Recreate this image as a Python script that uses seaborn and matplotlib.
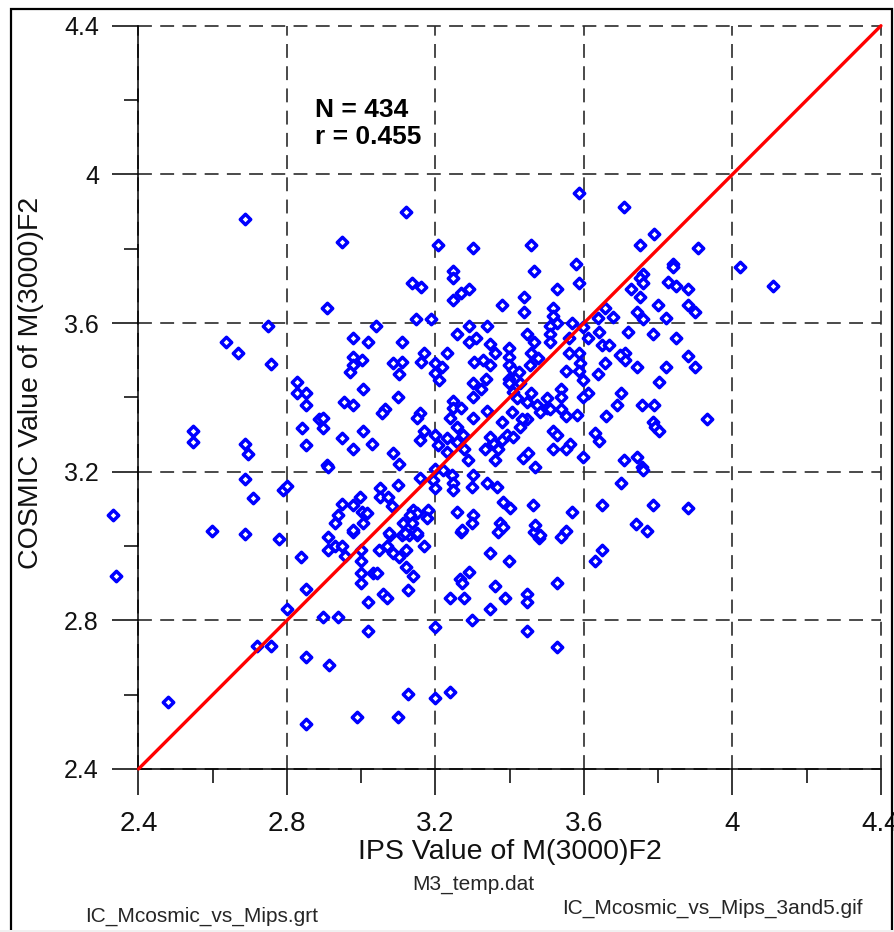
import numpy as np
import pandas as pd
import seaborn as sns
import matplotlib.pyplot as plt
from matplotlib.patches import Rectangle
from matplotlib.ticker import MultipleLocator

# values
ips = [2.331, 2.339, 2.480, 2.547, 2.547, 2.598, 2.636, 2.668, 2.687, 2.749,
       2.757, 2.687, 2.695, 2.687, 2.709, 2.687, 2.719, 2.757, 2.789, 2.800,
       2.779, 2.800, 2.827, 2.827, 2.851, 2.851, 2.887, 2.897, 2.841, 2.851,
       2.838, 2.851, 2.851, 2.851, 2.897, 2.914, 2.911, 2.911, 2.908, 2.908,
       3.121, 2.949, 3.207, 3.302, 3.458, 3.466, 3.248, 3.248, 3.137, 3.161,
       3.269, 3.291, 3.248, 3.380, 3.439, 3.439, 3.148, 3.188, 3.040, 3.291,
       3.339, 2.978, 3.019, 3.110, 3.258, 3.291, 3.310, 3.347, 3.447, 3.466,
       2.978, 3.170, 3.232, 3.399, 3.399, 3.361, 3.458, 3.587, 3.709, 3.789,
       3.752, 3.908, 3.841, 3.841, 3.579, 4.019, 4.110, 3.587, 3.528, 3.760,
       3.752, 3.760, 3.827, 3.849, 3.881, 3.727, 3.752, 3.657, 3.800, 3.881,
       3.900, 3.822, 3.744, 3.760, 3.517, 3.517, 3.528, 3.568, 3.679, 3.639,
       3.509, 3.509, 3.509, 3.560, 3.598, 3.612, 3.641, 3.649, 3.668, 3.719,
       3.787, 3.849, 3.881, 3.587, 3.560, 3.711, 3.900, 3.822, 3.803, 3.744,
       3.711, 3.698, 3.657, 3.639, 3.598, 3.552, 3.590, 3.587, 3.701, 3.612,
       3.598, 3.539, 3.539, 3.501, 3.501, 3.509, 3.539, 3.552, 3.582, 3.690,
       3.755, 3.789, 3.660, 3.787, 3.792, 3.803, 3.932, 3.517, 3.528, 3.630,
       3.641, 3.563, 3.552, 3.517, 3.598, 3.709, 3.744, 3.755, 3.760, 3.701,
       3.649, 3.787, 3.881, 3.568, 3.741, 3.771, 3.552, 3.539, 3.649, 3.630,
       3.528, 3.528, 2.930, 2.949, 2.957, 3.000, 3.000, 3.000, 3.032, 3.043,
       3.000, 3.019, 3.059, 3.070, 3.048, 3.070, 3.086, 3.102, 3.121, 3.121,
       3.140, 3.126, 3.170, 3.078, 3.110, 3.129, 3.151, 2.978, 3.269, 3.369,
       3.466, 3.480, 3.347, 3.399, 3.291, 3.267, 3.272, 3.361, 3.240, 3.277,
       3.388, 3.447, 3.447, 3.347, 2.938, 3.019, 3.199, 3.299, 3.447, 3.126,
       3.199, 3.240, 2.989, 3.099, 3.003, 2.978, 2.970, 3.086, 3.110, 3.102,
       3.161, 3.199, 3.218, 3.199, 3.210, 3.304, 3.328, 3.347, 3.337, 3.399,
       3.409, 3.399, 3.425, 3.455, 3.477, 3.005, 3.099, 2.954, 2.978, 3.064,
       3.056, 3.302, 3.323, 3.302, 3.248, 3.248, 3.269, 3.240, 3.159, 3.151,
       3.302, 3.339, 3.399, 3.409, 3.428, 3.420, 3.458, 3.447, 3.474, 3.482,
       3.447, 3.407, 3.380, 3.434, 2.897, 3.005, 2.949, 2.978, 3.029, 3.170,
       3.199, 3.232, 3.159, 3.207, 3.258, 3.275, 3.258, 3.232, 3.277, 3.334,
       3.355, 3.347, 3.380, 3.393, 3.409, 3.428, 3.369, 3.086, 3.102, 2.911,
       3.288, 3.361, 3.436, 3.450, 3.469, 3.159, 3.194, 3.199, 3.199, 3.245,
       3.248, 3.248, 3.221, 3.302, 3.299, 3.339, 3.366, 3.099, 3.051, 3.051,
       2.997, 3.073, 3.083, 2.949, 2.978, 2.938, 2.930, 3.003, 3.016, 3.005,
       2.978, 3.140, 3.151, 3.132, 3.180, 3.178, 3.258, 3.302, 3.299, 3.113,
       3.137, 3.075, 3.118, 3.272, 3.382, 3.401, 3.374, 3.382, 3.463, 3.469,
       3.482, 3.151]

cosmic = [3.084, 2.920, 2.580, 3.310, 3.280, 3.041, 3.549, 3.520, 3.880, 3.592,
          3.490, 3.275, 3.248, 3.181, 3.129, 3.033, 2.731, 2.731, 3.151, 3.162,
          3.019, 2.831, 3.442, 3.412, 3.412, 3.380, 3.342, 3.318, 3.318, 3.272,
          2.971, 2.885, 2.701, 2.521, 2.809, 2.680, 3.025, 2.990, 3.218, 3.641,
          3.899, 3.819, 3.810, 3.802, 3.810, 3.741, 3.741, 3.722, 3.708, 3.697,
          3.681, 3.692, 3.662, 3.649, 3.671, 3.630, 3.611, 3.611, 3.592, 3.592,
          3.592, 3.560, 3.549, 3.549, 3.571, 3.549, 3.560, 3.544, 3.571, 3.549,
          3.509, 3.520, 3.520, 3.533, 3.509, 3.520, 3.520, 3.950, 3.913, 3.840,
          3.810, 3.802, 3.759, 3.751, 3.759, 3.751, 3.700, 3.708, 3.692, 3.732,
          3.722, 3.708, 3.711, 3.700, 3.692, 3.692, 3.671, 3.641, 3.649, 3.649,
          3.630, 3.614, 3.630, 3.611, 3.641, 3.619, 3.601, 3.601, 3.617, 3.614,
          3.592, 3.571, 3.549, 3.560, 3.590, 3.560, 3.576, 3.541, 3.541, 3.576,
          3.571, 3.560, 3.512, 3.520, 3.520, 3.520, 3.482, 3.482, 3.442, 3.482,
          3.501, 3.514, 3.493, 3.463, 3.447, 3.471, 3.493, 3.471, 3.412, 3.412,
          3.401, 3.423, 3.401, 3.399, 3.372, 3.369, 3.369, 3.350, 3.353, 3.380,
          3.380, 3.380, 3.350, 3.334, 3.321, 3.310, 3.342, 3.310, 3.299, 3.304,
          3.283, 3.275, 3.261, 3.261, 3.240, 3.232, 3.240, 3.213, 3.205, 3.170,
          3.111, 3.111, 3.103, 3.092, 3.059, 3.041, 3.041, 3.025, 2.990, 2.960,
          2.901, 2.728, 3.000, 3.000, 2.973, 2.990, 2.960, 2.928, 2.928, 2.928,
          2.901, 2.850, 2.871, 2.860, 2.990, 3.000, 2.981, 2.971, 2.990, 2.944,
          2.920, 2.882, 3.000, 3.030, 3.030, 3.030, 3.030, 3.038, 3.038, 3.038,
          3.038, 3.022, 2.981, 2.960, 2.930, 2.911, 2.901, 2.893, 2.860, 2.860,
          2.860, 2.871, 2.850, 2.831, 2.809, 2.771, 2.782, 2.801, 2.771, 2.602,
          2.591, 2.607, 2.540, 2.540, 3.501, 3.487, 3.469, 3.493, 3.496, 3.463,
          3.496, 3.493, 3.482, 3.466, 3.447, 3.496, 3.501, 3.487, 3.450, 3.487,
          3.474, 3.450, 3.469, 3.487, 3.506, 3.423, 3.401, 3.388, 3.380, 3.369,
          3.358, 3.439, 3.423, 3.401, 3.391, 3.372, 3.372, 3.345, 3.358, 3.345,
          3.345, 3.364, 3.439, 3.415, 3.439, 3.399, 3.412, 3.388, 3.380, 3.361,
          3.342, 3.361, 3.334, 3.342, 3.345, 3.310, 3.291, 3.261, 3.275, 3.310,
          3.299, 3.291, 3.286, 3.272, 3.321, 3.299, 3.280, 3.253, 3.261, 3.261,
          3.278, 3.294, 3.286, 3.299, 3.294, 3.321, 3.261, 3.251, 3.221, 3.213,
          3.232, 3.232, 3.237, 3.251, 3.213, 3.183, 3.178, 3.156, 3.208, 3.191,
          3.170, 3.151, 3.205, 3.191, 3.159, 3.170, 3.159, 3.164, 3.156, 3.132,
          3.132, 3.132, 3.108, 3.113, 3.111, 3.084, 3.062, 3.092, 3.089, 3.062,
          3.043, 3.097, 3.089, 3.084, 3.097, 3.076, 3.092, 3.084, 3.062, 3.062,
          3.062, 3.035, 3.035, 3.043, 3.119, 3.103, 3.062, 3.051, 3.111, 3.057,
          3.030, 3.035]

n_points = 434
r_value = 0.455
ticks = [2.4, 2.8, 3.2, 3.6, 4.0, 4.4]
tick_labels = ['2.4', '2.8', '3.2', '3.6', '4', '4.4']
one_to_one = [2.4, 4.4]

df = pd.DataFrame({'ips': ips, 'cosmic': cosmic})

sns.set_theme(style='white')
plt.rcParams['font.family'] = ['Liberation Sans', 'DejaVu Sans']
plt.rcParams['lines.scale_dashes'] = False

fig = plt.figure(figsize=(8.94, 9.32), dpi=100)
ax = fig.add_axes([0.1549, 0.1749, 0.8305, 0.7975])

sns.scatterplot(data=df, x='ips', y='cosmic', marker='D', s=28, color='white',
                edgecolor='#0000ff', linewidth=2.5, zorder=3, legend=False, ax=ax)
# a couple of points sit left of the axis in the original, keep them visible
ax.collections[0].set_clip_on(False)
ax.plot(one_to_one, one_to_one, color='#ff0000', lw=2.4, zorder=4, clip_on=False)

ax.set_xlim(2.4, 4.4)
ax.set_ylim(2.4, 4.4)
ax.set_xticks(ticks)
ax.set_xticklabels(tick_labels)
ax.set_yticks(ticks)
ax.set_yticklabels(tick_labels)
ax.xaxis.set_minor_locator(MultipleLocator(0.2))
ax.yaxis.set_minor_locator(MultipleLocator(0.2))

ax.grid(True, which='major', color='#2b2b2b', linestyle=(0, (10, 6)), linewidth=1.2)
ax.set_axisbelow(True)
for gl in ax.get_xgridlines() + ax.get_ygridlines():
    gl.set_clip_on(False)

for side in ['top', 'right']:
    ax.spines[side].set_visible(False)
for side in ['left', 'bottom']:
    ax.spines[side].set_color('black')
    ax.spines[side].set_linewidth(1.1)

ax.tick_params(which='both', bottom=True, left=True, direction='out', color='black', width=1.1)
ax.tick_params(which='major', length=18.5)
ax.tick_params(which='minor', length=10)
ax.tick_params(axis='x', which='major', labelsize=20, pad=12, labelcolor='#111111')
ax.tick_params(axis='y', which='major', labelsize=18, pad=10, labelcolor='#111111')

ax.set_xlabel('IPS Value of M(3000)F2', fontsize=20.5, labelpad=1, color='#111111')
ax.set_ylabel('COSMIC Value of M(3000)F2', fontsize=20.5, color='#111111')
ax.yaxis.set_label_coords(-0.127, 0.52)

ax.text(2.875, 4.205, f'N = {n_points}\nr = {r_value}', fontsize=19, fontweight='bold',
        va='top', ha='left', linespacing=1.15, color='black')

fig.text(473 / 894, 1 - 890 / 932, 'M3_temp.dat', ha='center', va='baseline', fontsize=15)
fig.text(85 / 894, 1 - 922 / 932, 'IC_Mcosmic_vs_Mips.grt', ha='left', va='baseline', fontsize=15)
fig.text(562 / 894, 1 - 914 / 932, 'IC_Mcosmic_vs_Mips_3and5.gif', ha='left', va='baseline', fontsize=15)

# outer frame of the original screenshot
fig.add_artist(Rectangle((11 / 894, -0.01), 881 / 894, 1 - 9 / 932 + 0.01, transform=fig.transFigure,
                         fill=False, edgecolor='black', lw=1.6))
fig.add_artist(Rectangle((0, 0), 1, 2 / 932, transform=fig.transFigure,
                         facecolor='#f0f0f0', edgecolor='none'))

fig.savefig('out.png', dpi=100)
